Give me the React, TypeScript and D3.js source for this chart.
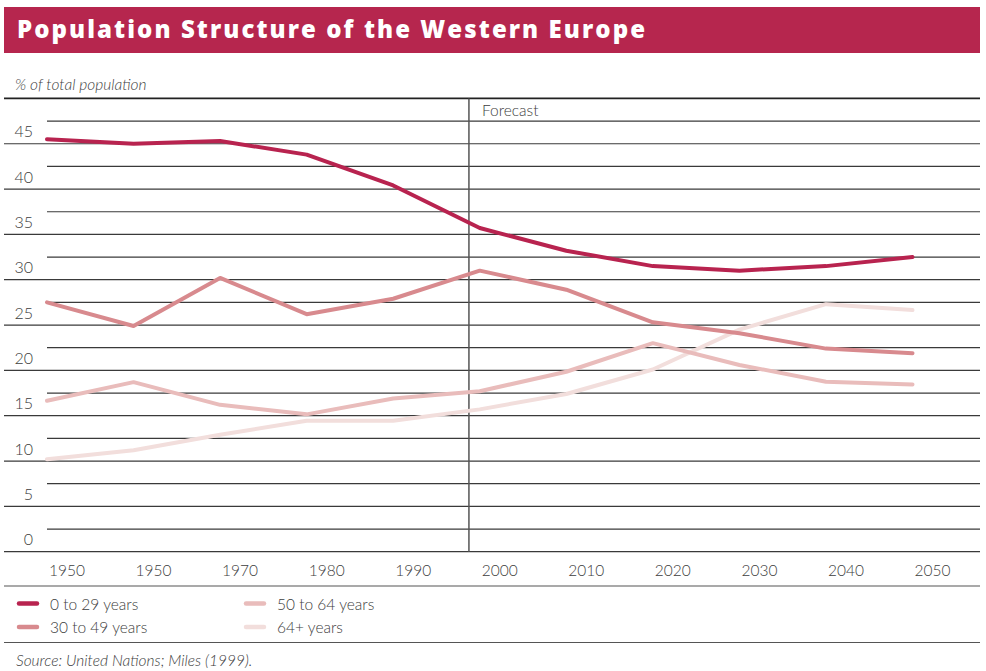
import React from 'react';
import * as d3 from 'd3';

// data (% of total population)
const years = ['1950', '1950', '1970', '1980', '1990', '2000', '2010', '2020', '2030', '2040', '2050'];
const age0to29 = [45.5, 45.0, 45.3, 43.8, 40.4, 35.7, 33.2, 31.5, 31.0, 31.5, 32.5];
const age30to49 = [27.5, 24.9, 30.2, 26.2, 27.9, 31.0, 28.9, 25.3, 24.1, 22.4, 21.9];
const age50to64 = [16.65, 18.7, 16.2, 15.15, 16.9, 17.7, 19.85, 23.0, 20.6, 18.75, 18.45];
const age64plus = [10.2, 11.2, 12.9, 14.45, 14.45, 15.7, 17.4, 20.1, 24.5, 27.3, 26.65];
const seriesNames = ['0 to 29 years', '30 to 49 years', '50 to 64 years', '64+ years'];
const yTicks = [0, 5, 10, 15, 20, 25, 30, 35, 40, 45];

const colors = ['#b8234f', '#d88a8e', '#e9bcbb', '#f2dedc'];
const font = 'Lato, "Open Sans", sans-serif';
const textCol = '#3d3d3d';
const W = 986, H = 671;

export default function App() {
  const x = d3.scaleLinear().domain([0, years.length - 1]).range([47, 912.5]);
  const y = d3.scaleLinear().domain([0, 50]).range([551.7, 98.4]);
  const line = d3.line<number>().x((d, i) => x(i)).y(d => y(d));
  const series = [age0to29, age30to49, age50to64, age64plus];
  const grid = d3.range(0, 50, 2.5);
  const forecastX = x(4.875);

  return (
    <svg width={W} height={H} style={{ position: 'absolute', left: 0, top: 0, background: '#fff' }}>
      {/* title bar */}
      <rect x={4} y={7} width={976} height={46} fill="#b6264e" />
      <text x={17} y={38} fill="#fff" fontFamily='"Open Sans", sans-serif' fontWeight={800}
        fontSize={24} textLength={628} lengthAdjust="spacing">
        Population Structure of the Western Europe
      </text>
      <text x={15} y={90} fill={textCol} fontFamily={font} fontWeight={300} fontStyle="italic" fontSize={15.5}>
        % of total population
      </text>

      {/* grid */}
      <line x1={4} x2={980} y1={y(50)} y2={y(50)} stroke="#222" strokeWidth={1.8} />
      {grid.map(v => (
        <line key={v} x1={v % 5 === 0 ? 4 : 47} x2={980} y1={y(v)} y2={y(v)}
          stroke="#3a3a3a" strokeWidth={1.2} />
      ))}
      {yTicks.map(v => (
        <text key={v} x={33} y={y(v) - 13} textAnchor="end" dominantBaseline="central"
          fill={textCol} fontFamily={font} fontWeight={300} fontSize={16}>{v}</text>
      ))}

      {/* forecast divider */}
      <line x1={forecastX} x2={forecastX} y1={y(50)} y2={y(0)} stroke="#555" strokeWidth={1.5} />
      <text x={forecastX + 13} y={y(50) + 12} dominantBaseline="central" fill={textCol}
        fontFamily={font} fontWeight={300} fontSize={15.5}>Forecast</text>

      {/* x labels */}
      {years.map((t, i) => (
        <text key={i} x={x(i) + 20} y={570} textAnchor="middle" dominantBaseline="central"
          fill={textCol} fontFamily={font} fontWeight={300} fontSize={15.5}>{t}</text>
      ))}

      {/* lines, lightest drawn first */}
      {series.map((s, k) => k).reverse().map(k => (
        <path key={k} d={line(series[k]) || ''} fill="none" stroke={colors[k]}
          strokeWidth={4} strokeLinecap="round" strokeLinejoin="round" />
      ))}

      {/* legend */}
      <line x1={4} x2={980} y1={586} y2={586} stroke="#555" strokeWidth={1.2} />
      {seriesNames.map((name, k) => {
        const col = Math.floor(k / 2), row = k % 2;
        const lx = 17 + col * 227, ly = 603.5 + row * 23.5;
        return (
          <g key={name}>
            <line x1={lx + 2} x2={lx + 20} y1={ly} y2={ly} stroke={colors[k]} strokeWidth={4.5} strokeLinecap="round" />
            <text x={lx + 33} y={ly} dominantBaseline="central" fill={textCol} fontFamily={font}
              fontWeight={300} fontSize={15.5}>{name}</text>
          </g>
        );
      })}
      <line x1={4} x2={980} y1={642.5} y2={642.5} stroke="#555" strokeWidth={1.2} />
      <text x={16} y={659.5} dominantBaseline="central" fill={textCol} fontFamily={font}
        fontWeight={300} fontStyle="italic" fontSize={15.5}>Source: United Nations; Miles (1999).</text>
    </svg>
  );
}
